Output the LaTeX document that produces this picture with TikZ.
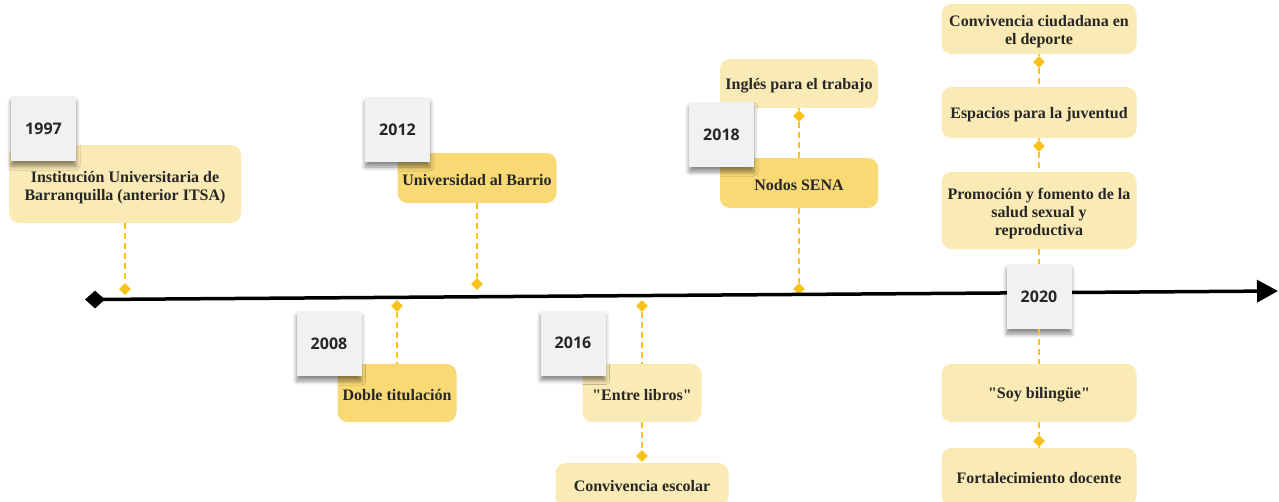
\documentclass[tikz,border=0pt]{standalone}
\usepackage{fontspec}
\setmainfont{Liberation Serif}
\newfontfamily\yearfont{Open Sans}
\usetikzlibrary{shapes.geometric,arrows.meta,shadows.blur}
\definecolor{lightbox}{HTML}{FAEAB5}
\definecolor{darkbox}{HTML}{F9D974}
\definecolor{gold}{HTML}{F8C21B}
\definecolor{cardgray}{HTML}{F0F1F3}
\definecolor{txt}{HTML}{262626}
\begin{document}
\begin{tikzpicture}[x=1pt,y=-1pt,
 evbox/.style={rectangle, rounded corners=10pt, fill=lightbox, inner sep=0pt},
 evboxd/.style={evbox, fill=darkbox},
 evtext/.style={inner sep=0pt, align=center, font=\fontsize{16}{18}\selectfont\bfseries, text=txt},
 yearcard/.style={rectangle, fill=cardgray, minimum width=65pt, minimum height=65pt, inner sep=0pt, font=\yearfont\fontsize{16}{18}\selectfont\bfseries, text=txt, blur shadow={shadow xshift=0pt, shadow yshift=-5pt, shadow blur radius=4pt, shadow opacity=45}},
 gdia/.style={diamond, fill=gold, minimum width=12pt, minimum height=12pt, inner sep=0pt},
 conn/.style={draw=gold, line width=1.6pt, dash pattern=on 6pt off 4pt}]
\useasboundingbox (0,0) rectangle (1279,501);
\clip (0,0) rectangle (1279,501);

% event boxes
\node[evbox, minimum width=232pt, minimum height=78pt] (b1997) at (125,184) {};
\node[evboxd, minimum width=119pt, minimum height=58pt] (b2008) at (397,393) {};
\node[evboxd, minimum width=159pt, minimum height=50pt] (b2012) at (477,178) {};
\node[evbox, minimum width=119pt, minimum height=58pt] (b2016a) at (642,393) {};
\node[evbox, minimum width=173pt, minimum height=44pt] (b2016b) at (642,485) {};
\node[evbox, minimum width=158pt, minimum height=49pt] (b2018a) at (799,83.5) {};
\node[evboxd, minimum width=158pt, minimum height=50pt] (b2018b) at (799,183) {};
\node[evbox, minimum width=195pt, minimum height=50pt] (b2020a) at (1039,29) {};
\node[evbox, minimum width=195pt, minimum height=51pt] (b2020b) at (1039,112.5) {};
\node[evbox, minimum width=195pt, minimum height=77pt] (b2020c) at (1039,210.5) {};
\node[evbox, minimum width=195pt, minimum height=58pt] (b2020d) at (1039,393) {};
\node[evbox, minimum width=195pt, minimum height=58pt] (b2020e) at (1039,477) {};

% event texts
\node[evtext] (t1997) at ([yshift=-3.5pt]b1997.center) {Institución Universitaria de\\Barranquilla (anterior ITSA)};
\node[evtext] (t2008) at ([yshift=-2pt]b2008.center) {Doble titulación};
\node[evtext] (t2012) at ([yshift=-2pt]b2012.center) {Universidad al Barrio};
\node[evtext] (t2016a) at ([yshift=-2pt]b2016a.center) {\textquotedbl Entre libros\textquotedbl};
\node[evtext] (t2016b) at ([yshift=-1pt]b2016b.center) {Convivencia escolar};
\node[evtext] (t2018a) at ([yshift=-2pt]b2018a.center) {Inglés para el trabajo};
\node[evtext] (t2018b) at ([yshift=-2pt]b2018b.center) {Nodos SENA};
\node[evtext] (t2020a) at ([yshift=-3pt]b2020a.center) {Convivencia ciudadana en\\el deporte};
\node[evtext] (t2020b) at ([yshift=-2pt]b2020b.center) {Espacios para la juventud};
\node[evtext] (t2020c) at ([yshift=-3pt]b2020c.center) {Promoción y fomento de la\\salud sexual y\\reproductiva};
\node[evtext] (t2020d) at ([yshift=-2pt]b2020d.center) {\textquotedbl Soy bilingüe\textquotedbl};
\node[evtext] (t2020e) at ([yshift=-1pt]b2020e.center) {Fortalecimiento docente};

% diamonds
\node[gdia] (d1997) at (125,289) {};
\node[gdia] (d2008) at (397,306) {};
\node[gdia] (d2012) at (477,284) {};
\node[gdia] (d2016a) at (642,306) {};
\node[gdia] (d2016b) at (642,456) {};
\node[gdia] (d2018a) at (799,116) {};
\node[gdia] (d2018b) at (799,289) {};
\node[gdia] (d2020a) at (1039,62) {};
\node[gdia] (d2020b) at (1039,146) {};
\node[gdia] (d2020c) at (1039,441) {};

% timeline
\node[diamond, fill=black, minimum width=20pt, minimum height=18pt, inner sep=0pt] (start) at (95,299.5) {};
\coordinate (end) at (1278,291);
\draw[line width=3.5pt, -{Triangle[length=21pt,width=22pt]}] (start.center) -- (end);

% year cards
\node[yearcard] (c1997) at (43.5,128.5) {1997};
\node[yearcard] (c2008) at (329,343.5) {2008};
\node[yearcard] (c2012) at (397.5,129.5) {2012};
\node[yearcard] (c2016) at (573,343) {2016};
\node[yearcard] (c2018) at (721.5,134.5) {2018};
\node[yearcard] (c2020) at (1039,296.5) {2020};

% connectors
\path[conn] (b1997) -- (d1997);
\path[conn] (d2008) -- (b2008);
\path[conn] (b2012) -- (d2012);
\path[conn] (d2016a) -- (b2016a);
\path[conn] (b2016a) -- (d2016b);
\path[conn] (b2018a) -- (d2018a);
\path[conn] (d2018a) -- (b2018b);
\path[conn] (b2018b) -- (d2018b);
\path[conn] (b2020a) -- (d2020a);
\path[conn] (d2020a) -- (b2020b);
\path[conn] (b2020b) -- (d2020b);
\path[conn] (d2020b) -- (b2020c);
\path[conn] (b2020c) -- (c2020);
\path[conn] (c2020) -- (b2020d);
\path[conn] (b2020d) -- (d2020c);
\path[conn] (d2020c) -- (b2020e);
\end{tikzpicture}
\end{document}
